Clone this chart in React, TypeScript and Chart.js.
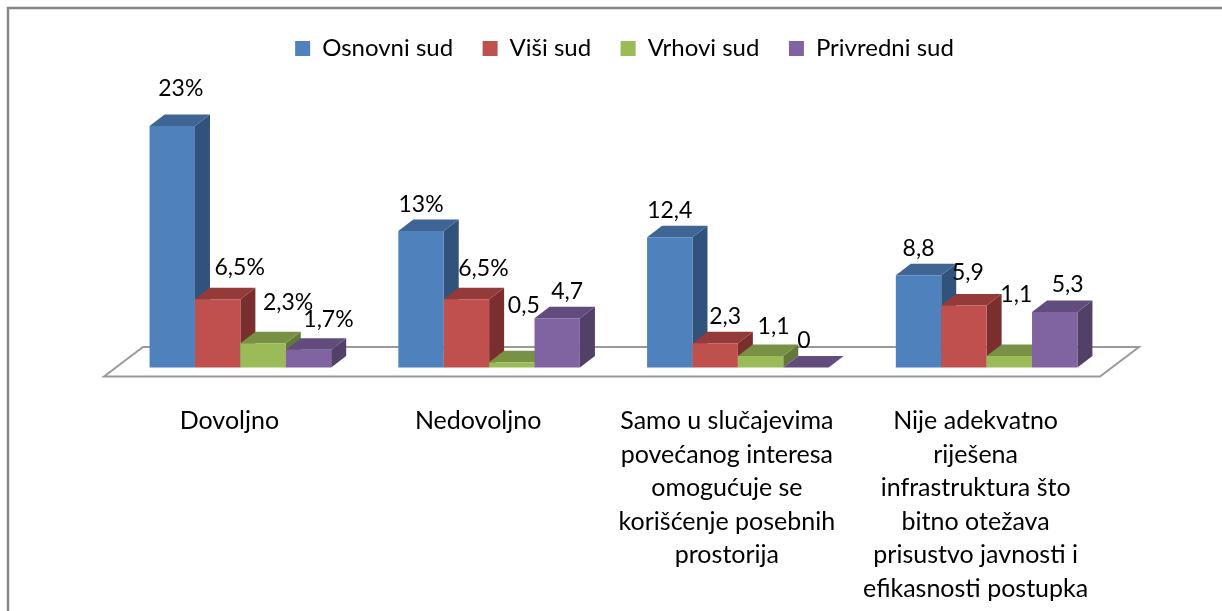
import React, { useEffect, useRef } from "react";
import { Chart, registerables } from "chart.js";

Chart.register(...registerables);

const categories: (string | string[])[] = [
  "Dovoljno",
  "Nedovoljno",
  ["Samo u slučajevima", "povećanog interesa", "omogućuje se", "korišćenje posebnih", "prostorija"],
  ["Nije adekvatno", "riješena", "infrastruktura što", "bitno otežava", "prisustvo javnosti i", "efikasnosti postupka"],
];
const osnovniSud = [23, 13, 12.4, 8.8];
const visiSud = [6.5, 6.5, 2.3, 5.9];
const vrhoviSud = [2.3, 0.5, 1.1, 1.1];
const privredniSud = [1.7, 4.7, 0, 5.3];

const osnovniLabels = ["23%", "13%", "12,4", "8,8"];
const visiLabels = ["6,5%", "6,5%", "2,3", "5,9"];
const vrhoviLabels = ["2,3%", "0,5", "1,1", "1,1"];
const privredniLabels = ["1,7%", "4,7", "0", "5,3"];

const FONT = "Lato, Carlito, sans-serif";
const DEPTH_X = 15;
const DEPTH_Y = 11.5;

// label nudges relative to bar centre / bar top: [dx, dy] per dataset, per category
const labelNudges = [
  [[8.5, -38], [0, -26], [0, -27], [0, -27]],
  [[22, -32], [17, -31], [10, -27], [4, -33]],
  [[25, -41], [12, -57], [13, -29], [7, -61]],
  [[20, -30], [10, -27], [-2, -27], [13, -27]],
];

const styles = [
  { front: "#4F81BD", top: "#3E6594", side: "#31527A" },
  { front: "#C0504D", top: "#943A38", side: "#7A2F2E" },
  { front: "#9BBB59", top: "#789144", side: "#637838" },
  { front: "#8064A2", top: "#624C7D", side: "#524069" },
];
const valueLabels = [osnovniLabels, visiLabels, vrhoviLabels, privredniLabels];

function quad(ctx: CanvasRenderingContext2D, pts: number[][], fill: string) {
  ctx.beginPath();
  pts.forEach(([x, y], i) => (i ? ctx.lineTo(x, y) : ctx.moveTo(x, y)));
  ctx.closePath();
  ctx.fillStyle = fill;
  ctx.fill();
}

const frame3d = {
  id: "frame3d",
  // The reference legend sits right of the plot's centre.
  afterLayout(chart: any) {
    chart.legend.left += 11;
    chart.legend.right += 11;
  },
  beforeDraw(chart: any) {
    const { ctx, chartArea: a, scales } = chart;
    const base = scales.y.getPixelForValue(0);
    ctx.save();
    ctx.strokeStyle = "#868686";
    ctx.lineWidth = 2.4;
    ctx.beginPath();
    ctx.moveTo(8, chart.height);
    ctx.lineTo(8, 8);
    ctx.lineTo(chart.width, 8);
    ctx.stroke();
    ctx.strokeStyle = "#9A9A9A";
    ctx.lineWidth = 2;
    ctx.beginPath();
    ctx.moveTo(a.left - 12, base + 9);
    ctx.lineTo(a.left + 27, base - 20.5);
    ctx.lineTo(a.right + 28, base - 20.5);
    ctx.lineTo(a.right - 11, base + 9);
    ctx.closePath();
    ctx.stroke();
    ctx.restore();
  },
  // Datasets are painted left to right below, so later bars overlap earlier depth faces.
  beforeDatasetDraw() {
    return false;
  },
  afterDatasetsDraw(chart: any) {
    const { ctx } = chart;
    chart.data.datasets.forEach((_: any, i: number) => {
      const s = styles[i];
      const meta = chart.getDatasetMeta(i);
      meta.data.forEach((bar: any) => {
        const p = bar.getProps(["x", "y", "base", "width"], true);
        const l = p.x - p.width / 2;
        const r = p.x + p.width / 2;
        quad(ctx, [[r, p.y], [r + DEPTH_X, p.y - DEPTH_Y], [r + DEPTH_X, p.base - DEPTH_Y], [r, p.base]], s.side);
        quad(ctx, [[l, p.y], [l + DEPTH_X, p.y - DEPTH_Y], [r + DEPTH_X, p.y - DEPTH_Y], [r, p.y]], s.top);
      });
      meta.controller.draw();
    });
    ctx.save();
    ctx.font = `23px ${FONT}`;
    ctx.fillStyle = "#000";
    ctx.textAlign = "center";
    ctx.textBaseline = "middle";
    chart.data.datasets.forEach((_: any, i: number) => {
      chart.getDatasetMeta(i).data.forEach((bar: any, j: number) => {
        const p = bar.getProps(["x", "y"], true);
        const [dx, dy] = labelNudges[i][j];
        ctx.fillText(valueLabels[i][j], p.x + dx, p.y + dy);
      });
    });
    ctx.restore();
  },
};

export default function App() {
  const ref = useRef<HTMLCanvasElement>(null);
  useEffect(() => {
    const names = ["Osnovni sud", "Viši sud", "Vrhovi sud", "Privredni sud"];
    const values = [osnovniSud, visiSud, vrhoviSud, privredniSud];
    const chart = new Chart(ref.current!, {
      type: "bar",
      data: {
        labels: categories as any,
        datasets: names.map((label, i) => ({
          label,
          data: values[i],
          backgroundColor: styles[i].front,
          borderWidth: 0,
          categoryPercentage: 0.73,
          barPercentage: 1,
        })),
      },
      options: {
        responsive: false,
        animation: false,
        layout: { padding: { left: 116, right: 111, top: 7, bottom: 0 } },
        plugins: {
          tooltip: { enabled: false },
          legend: {
            position: "top",
            labels: {
              boxWidth: 15,
              boxHeight: 15,
              padding: 29.5,
              color: "#000",
              font: { family: FONT, size: 24 },
            },
          },
        },
        scales: {
          x: {
            grid: { display: false, drawTicks: false },
            border: { display: false },
            afterFit: (s: any) => {
              s.height = 243.5;
            },
            ticks: {
              autoSkip: false,
              maxRotation: 0,
              minRotation: 0,
              labelOffset: -11,
              padding: 37,
              color: "#000",
              font: { family: FONT, size: 25, lineHeight: "33.5px" as any },
            },
          },
          y: { display: false, min: 0, max: 28.3 },
        },
      },
      plugins: [frame3d as any],
    });
    return () => chart.destroy();
  }, []);
  return (
    <div style={{ position: "fixed", left: 0, top: 0, width: 1222, height: 611, background: "#fff" }}>
      <canvas ref={ref} width={1222} height={611} style={{ display: "block" }} />
    </div>
  );
}
